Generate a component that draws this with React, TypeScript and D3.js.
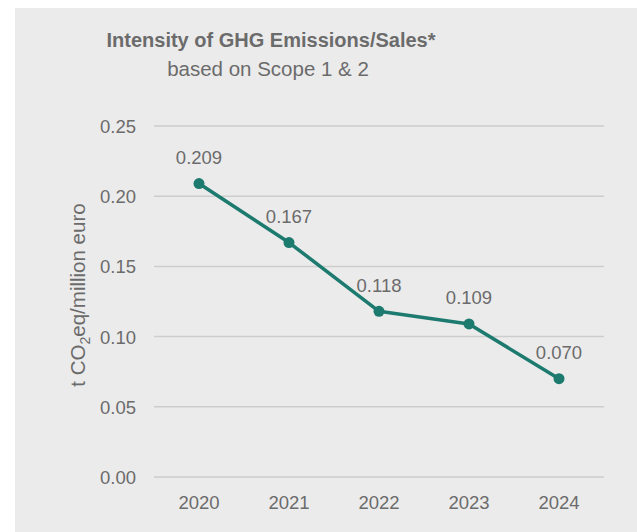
import React from "react";
import * as d3 from "d3";

const years = ["2020", "2021", "2022", "2023", "2024"];
const values = [0.209, 0.167, 0.118, 0.109, 0.07];
const valueLabels = ["0.209", "0.167", "0.118", "0.109", "0.070"];
const yTicks = [0, 0.05, 0.1, 0.15, 0.2, 0.25];
const title = "Intensity of GHG Emissions/Sales*";
const subtitle = "based on Scope 1 & 2";

const W = 637;
const H = 532;
const FONT = "'Liberation Sans', Arial, Helvetica, sans-serif";
const TEXT = "#6b6b6b";
const TEAL = "#1c7a6e";

export default function App() {
  const x = d3.scaleBand().domain(years).range([154, 604]);
  const y = d3.scaleLinear().domain([0, 0.25]).range([477, 126]);
  const cx = (i: number) => (x(years[i]) as number) + x.bandwidth() / 2;
  const line = d3
    .line<number>()
    .x((_, i) => cx(i))
    .y((d) => y(d));

  return (
    <svg
      width={W}
      height={H}
      style={{ position: "absolute", left: 0, top: 0, display: "block" }}
      fontFamily={FONT}
    >
      <rect x={0} y={0} width={W} height={H} fill="#ffffff" />
      <rect x={15} y={8} width={W - 15} height={H - 8} fill="#ebebeb" />
      <text x={271} y={47} textAnchor="middle" fontSize={20} fontWeight="bold" fill={TEXT}>
        {title}
      </text>
      <text x={268} y={76} textAnchor="middle" fontSize={20.5} fill={TEXT}>
        {subtitle}
      </text>
      {yTicks.map((t) => (
        <g key={t}>
          <line x1={154} x2={604} y1={y(t)} y2={y(t)} stroke="#cdcdcd" strokeWidth={1.5} />
          <text x={136} y={y(t) + 7} textAnchor="end" fontSize={18.5} fill={TEXT}>
            {t.toFixed(2)}
          </text>
        </g>
      ))}
      {years.map((yr, i) => (
        <text key={yr} x={cx(i)} y={509} textAnchor="middle" fontSize={18.5} fill={TEXT}>
          {yr}
        </text>
      ))}
      <text
        transform="translate(85,295) rotate(-90)"
        textAnchor="middle"
        fontSize={20.5}
        fill={TEXT}
      >
        t CO<tspan fontSize={14} dy={5}>2</tspan>
        <tspan dy={-5}>eq/million euro</tspan>
      </text>
      <path d={line(values) || ""} fill="none" stroke={TEAL} strokeWidth={3.5} strokeLinejoin="round" />
      {values.map((v, i) => (
        <circle key={i} cx={cx(i)} cy={y(v)} r={5.5} fill={TEAL} />
      ))}
      {values.map((v, i) => (
        <text key={"l" + i} x={cx(i)} y={y(v) - 19.5} textAnchor="middle" fontSize={18.5} fill={TEXT}>
          {valueLabels[i]}
        </text>
      ))}
    </svg>
  );
}
